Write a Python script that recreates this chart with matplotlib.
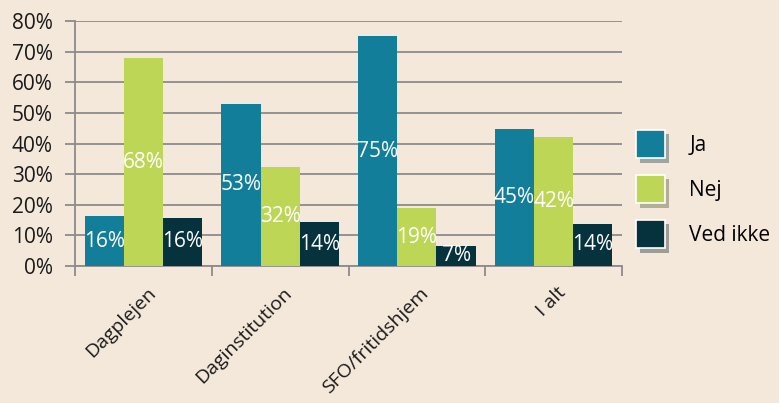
import matplotlib
matplotlib.use("Agg")
import matplotlib.pyplot as plt
import numpy as np
from matplotlib.patches import Patch
from matplotlib import patheffects as pe
import matplotlib.transforms as mtrans

categories = ["Dagplejen", "Daginstitution", "SFO/fritidshjem", "I alt"]
series_names = ["Ja", "Nej", "Ved ikke"]
ja = [16.3, 53.0, 75.0, 44.7]
nej = [67.9, 32.4, 18.9, 42.1]
ved_ikke = [15.7, 14.3, 6.6, 13.8]
yticks = [0, 10, 20, 30, 40, 50, 60, 70, 80]

colors = ["#127E99", "#BDD656", "#06323E"]
bg = "#F4E8DB"
grid_c = "#8C8C8C"
fs = 15

plt.rcParams['font.family'] = ['Open Sans', 'DejaVu Sans']

fig = plt.figure(figsize=(7.79, 4.03), dpi=100, facecolor=bg)
ax = fig.add_axes([75/779, 1-266/403, (622-75)/779, (266-21)/403])
ax.set_facecolor(bg)

x = np.arange(len(categories))
w = 0.287
for i, (vals, name, c) in enumerate(zip([ja, nej, ved_ikke], series_names, colors)):
    xs = x + (i - 1) * w
    ax.bar(xs, vals, width=w, color=c, zorder=3)
    for xi, v in zip(xs, vals):
        ax.text(xi, v / 2, f"{v:.0f}%", ha="center", va="center", color="white",
                fontsize=fs, zorder=4)

ax.set_xlim(-0.5, 3.5)
ax.set_ylim(0, 80)
ax.set_yticks(yticks)
ax.set_yticklabels([f"{t}%" for t in yticks], fontsize=fs, color="#1a1a1a")
ax.yaxis.grid(True, color=grid_c, lw=1.3, zorder=0)
ax.set_axisbelow(True)
for s in ["top", "right"]:
    ax.spines[s].set_visible(False)
for s in ["left", "bottom"]:
    ax.spines[s].set_color(grid_c)
    ax.spines[s].set_linewidth(1.3)
ax.tick_params(axis="y", length=7, width=1.3, color=grid_c, pad=9)

ax.set_xticks(x)
ax.set_xticklabels(categories, rotation=45, ha="right", rotation_mode="anchor",
                   fontsize=14, color="#1a1a1a")
ax.tick_params(axis="x", which="major", length=0, pad=13)
ax.set_xticks(np.arange(-0.5, 4.0, 1.0), minor=True)
ax.tick_params(axis="x", which="minor", length=7, width=1.3, color=grid_c)
for lbl in ax.get_xticklabels():
    lbl.set_transform(lbl.get_transform() + mtrans.ScaledTranslation(3/100, 0, fig.dpi_scale_trans))

handles = [Patch(facecolor=c, edgecolor="white", linewidth=1.2,
                 path_effects=[pe.SimplePatchShadow(offset=(3, -3), alpha=0.35), pe.Normal()])
           for c in colors]
fig.legend(handles, series_names, loc="center left", bbox_to_anchor=(636/779, 1-189/403),
           frameon=False, fontsize=fs, handlelength=1.4, handleheight=1.76,
           handletextpad=1.15, labelspacing=0.77, borderpad=0, borderaxespad=0)

fig.savefig("out.png", dpi=100, facecolor=bg)
